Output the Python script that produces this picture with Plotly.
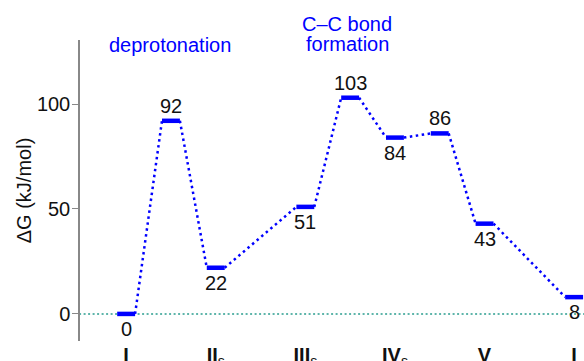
""" Free energy profile: deprotonation and C-C bond formation. """

import plotly.graph_objects as go

# Energy levels (kJ/mol) and their positions along the reaction coordinate
level_x = [0, 1, 2, 4, 5, 6, 7, 8, 10]
level_g = [0, 92, 22, 51, 103, 84, 86, 43, 8]
label_side = ['below', 'above', 'below', 'below', 'above', 'below', 'above', 'below', 'below']

# Species labels on the x axis
species_x = [0, 2, 4, 6, 8, 10]
species_text = ['I', 'II<sub>s</sub>', 'III<sub>s</sub>', 'IV<sub>s</sub>', 'V', 'I']

y_ticks = [0, 50, 100]

HALF = 0.2
BLUE = '#0000ff'
FONT = 'Arial, Liberation Sans, sans-serif'


def bold_label(t: str) -> str:
    # bold the roman numeral only, keep the subscript thin
    if '<sub>' in t:
        head, sub = t.split('<sub>')
        return f'<b>{head}</b><sub>{sub}'
    return f'<b>{t}</b>'


def build_fig() -> go.Figure:
    fig = go.Figure()

    # Reference line at zero
    fig.add_trace(go.Scatter(
        x=[-1.05, 10.25], y=[0, 0],
        mode='lines',
        line=dict(color='#2a9d8f', width=1.5, dash='2px,2.5px'),
        hoverinfo='skip', showlegend=False,
    ))

    # Dotted connectors between levels
    con_x, con_y = [], []
    for i in range(len(level_x) - 1):
        con_x.extend([level_x[i] + HALF, level_x[i + 1] - HALF, None])
        con_y.extend([level_g[i], level_g[i + 1], None])
    fig.add_trace(go.Scatter(
        x=con_x, y=con_y,
        mode='lines',
        line=dict(color=BLUE, width=2.5, dash='2.5px,3.5px'),
        hoverinfo='skip', showlegend=False,
    ))

    # Level bars
    bar_x, bar_y = [], []
    for x, g in zip(level_x, level_g):
        bar_x.extend([x - HALF, x + HALF, None])
        bar_y.extend([g, g, None])
    fig.add_trace(go.Scatter(
        x=bar_x, y=bar_y,
        mode='lines',
        line=dict(color=BLUE, width=4.5),
        showlegend=False,
    ))

    # Level values
    for x, g, side in zip(level_x, level_g, label_side):
        fig.add_annotation(
            x=x, y=g, text=str(g), showarrow=False,
            yanchor='bottom' if side == 'above' else 'top',
            yshift=2 if side == 'above' else -2,
            font=dict(family=FONT, size=20, color='#111'),
        )

    # Step labels
    step_font = dict(family=FONT, size=20, color=BLUE)
    fig.add_annotation(x=0.98, y=0.983, yref='paper', yanchor='middle', text='deprotonation',
                       showarrow=False, font=step_font)
    fig.add_annotation(x=4.93, y=1.053, yref='paper', yanchor='middle', text='C–C bond',
                       showarrow=False, font=step_font)
    fig.add_annotation(x=4.93, y=0.986, yref='paper', yanchor='middle', text='formation',
                       showarrow=False, font=step_font)

    fig.update_xaxes(
        range=[-1.03, 10.22],
        tickvals=species_x,
        ticktext=[bold_label(t) for t in species_text],
        showline=False, showgrid=False, zeroline=False, automargin=False,
        ticks='', tickfont=dict(family=FONT, size=20, color='#111'),
    )
    fig.update_yaxes(
        range=[-12.9, 130.5],
        tickvals=y_ticks,
        showline=True, linecolor='#888', linewidth=1.5,
        ticks='outside', ticklen=6, tickcolor='#888', ticklabelstandoff=-2,
        showgrid=False, zeroline=False, automargin=False,
        tickfont=dict(family=FONT, size=20, color='#111'),
        title=dict(text='ΔG (kJ/mol)', font=dict(family=FONT, size=20, color='#111'), standoff=0),
    )
    fig.update_layout(
        width=584, height=361, autosize=False,
        margin=dict(l=80, r=0, t=40, b=20),
        plot_bgcolor='white', paper_bgcolor='white',
    )
    return fig


def main():
    fig = build_fig()
    # drop the page's default body margin so the figure sits at the window's corner
    fig.write_html('out.html', config={'displayModeBar': False},
                   post_script="document.body.style.margin='0';")


if __name__ == '__main__':
    main()
